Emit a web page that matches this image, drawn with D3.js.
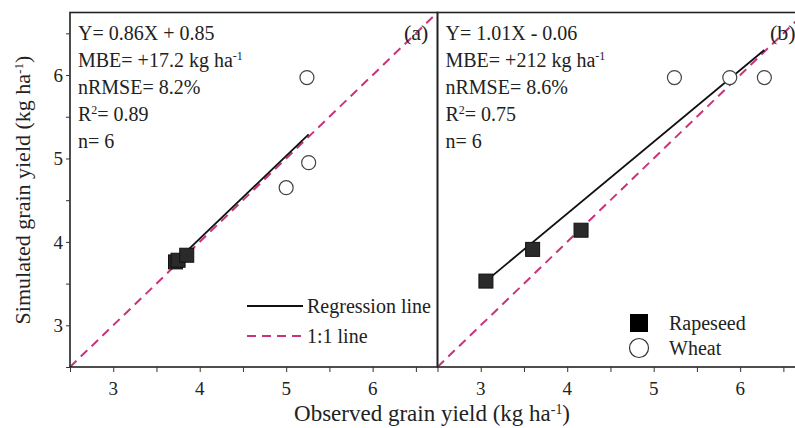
<!DOCTYPE html>
<html>
<head>
<meta charset="utf-8">
<script src="https://cdn.jsdelivr.net/npm/d3@7"></script>
<style>
  html, body { margin: 0; padding: 0; background: #fff; }
</style>
</head>
<body>
<div id="chart"></div>
<script>
// observed vs simulated grain yield, two panels

const xTicks = [3, 4, 5, 6];
const yTicks = [3, 4, 5, 6];

// panel (a)
const rapeA = [[3.72, 3.76], [3.75, 3.78], [3.85, 3.84]];
const wheatA = [[5.24, 5.97], [5.26, 4.95], [5.0, 4.65]];
const regA = [[3.72, 3.76], [5.26, 5.29]];
const statsA = ["Y= 0.86X + 0.85", "MBE= +17.2 kg ha|-1", "nRMSE= 8.2%", "R|2|= 0.89", "n= 6"];

// panel (b)
const rapeB = [[3.06, 3.53], [3.6, 3.91], [4.16, 4.14]];
const wheatB = [[5.24, 5.97], [5.88, 5.97], [6.28, 5.97]];
const regB = [[3.06, 3.53], [6.28, 6.3]];
const statsB = ["Y= 1.01X - 0.06", "MBE= +212 kg ha|-1", "nRMSE= 8.6%", "R|2|= 0.75", "n= 6"];

const oneToOne = [[2.5, 2.5], [6.75, 6.75]];

const width = 795, height = 428;
const pink = "#c8347c";
const serif = "'Liberation Serif', 'Times New Roman', serif";

const svg = d3.select("#chart").append("svg")
  .attr("width", width)
  .attr("height", height)
  .attr("font-family", serif);

const y = d3.scaleLinear().domain([2.5, 6.75]).range([367, 12.5]);

// text with simple superscripts, marked with |..|
function richText(sel, str) {
  sel.attr("font-family", serif).attr("fill", "#222");
  const parts = str.split("|");
  parts.forEach((p, i) => {
    if (!p) return;
    const t = sel.append("tspan").text(p);
    if (i % 2 === 1) t.attr("baseline-shift", "super").attr("font-size", "0.6em");
  });
  return sel;
}

function panel(x0, x1, rape, wheat, reg, stats, tag, tagX, showY) {
  const x = d3.scaleLinear().domain([2.5, 6.75]).range([x0, x1]);
  const g = svg.append("g");

  const line = d3.line().x(d => x(d[0])).y(d => y(d[1]));

  // 1:1 line
  g.append("path").attr("d", line(oneToOne))
    .attr("fill", "none").attr("stroke", pink)
    .attr("stroke-width", 2).attr("stroke-dasharray", "9,6");

  // regression
  g.append("path").attr("d", line(reg))
    .attr("fill", "none").attr("stroke", "#111").attr("stroke-width", 1.8);

  g.selectAll(".sq").data(rape).enter().append("rect")
    .attr("x", d => x(d[0]) - 7).attr("y", d => y(d[1]) - 7)
    .attr("width", 14).attr("height", 14)
    .attr("fill", "#2a2a2a").attr("stroke", "#111");

  g.selectAll(".ci").data(wheat).enter().append("circle")
    .attr("cx", d => x(d[0])).attr("cy", d => y(d[1])).attr("r", 7)
    .attr("fill", "#fff").attr("stroke", "#444").attr("stroke-width", 1.2);

  // frame
  g.append("rect").attr("x", x0).attr("y", 12.5)
    .attr("width", x1 - x0).attr("height", 367 - 12.5)
    .attr("fill", "none").attr("stroke", "#222").attr("stroke-width", 1.6);

  // x axis
  const xa = g.append("g").attr("transform", "translate(0,367)")
    .call(d3.axisBottom(x).tickValues(d3.range(2.5, 6.8, 0.5)).tickSize(5).tickFormat(""));
  xa.select(".domain").remove();
  xa.selectAll("line").attr("stroke", "#333");
  g.selectAll(".xl").data(xTicks).enter().append("text")
    .attr("x", d => x(d)).attr("y", 395)
    .attr("text-anchor", "middle").attr("font-size", 19).attr("fill", "#222").text(d => d);

  if (showY) {
    const ya = g.append("g").attr("transform", `translate(${x0},0)`)
      .call(d3.axisLeft(y).tickValues(d3.range(2.5, 6.8, 0.5)).tickSize(4).tickFormat(""));
    ya.select(".domain").remove();
    ya.selectAll("line").attr("stroke", "#333");
    g.selectAll(".yl").data(yTicks).enter().append("text")
      .attr("x", x0 - 7).attr("y", d => y(d)).attr("dy", "0.35em")
      .attr("text-anchor", "end").attr("font-size", 19).attr("fill", "#222").text(d => d);
  }

  stats.forEach((s, i) => {
    richText(g.append("text").attr("x", x0 + 8).attr("y", 40 + i * 27).attr("font-size", 20), s);
  });

  g.append("text").attr("x", tagX).attr("y", 40).attr("fill", "#222")
    .attr("font-size", 22).text(tag);

  return x;
}

panel(70, 437.5, rapeA, wheatA, regA, statsA, "(a)", 404, true);
panel(437.5, 805, rapeB, wheatB, regB, statsB, "(b)", 770, false);

// legend, panel (a)
const lgA = svg.append("g");
lgA.append("line").attr("x1", 247).attr("x2", 303).attr("y1", 306).attr("y2", 306)
  .attr("stroke", "#111").attr("stroke-width", 1.8);
richText(lgA.append("text").attr("x", 307).attr("y", 306).attr("dy", "0.35em")
  .attr("font-size", 20), "Regression line");
lgA.append("line").attr("x1", 247).attr("x2", 303).attr("y1", 336).attr("y2", 336)
  .attr("stroke", pink).attr("stroke-width", 2).attr("stroke-dasharray", "9,6");
richText(lgA.append("text").attr("x", 307).attr("y", 336).attr("dy", "0.35em")
  .attr("font-size", 20), "1:1 line");

// legend, panel (b)
const lgB = svg.append("g");
lgB.append("rect").attr("x", 630).attr("y", 314).attr("width", 18).attr("height", 18).attr("fill", "#000");
richText(lgB.append("text").attr("x", 669).attr("y", 323).attr("dy", "0.35em")
  .attr("font-size", 20), "Rapeseed");
lgB.append("circle").attr("cx", 639).attr("cy", 348).attr("r", 9.5)
  .attr("fill", "#fff").attr("stroke", "#333").attr("stroke-width", 1.2);
richText(lgB.append("text").attr("x", 669).attr("y", 348).attr("dy", "0.35em")
  .attr("font-size", 20), "Wheat");

// axis titles
richText(svg.append("text").attr("x", 432).attr("y", 421)
  .attr("text-anchor", "middle").attr("font-size", 23), "Observed grain yield (kg ha|-1|)");
richText(svg.append("text")
  .attr("transform", "translate(30,190) rotate(-90)")
  .attr("text-anchor", "middle").attr("font-size", 22), "Simulated grain yield (kg ha|-1|)");
</script>
</body>
</html>
